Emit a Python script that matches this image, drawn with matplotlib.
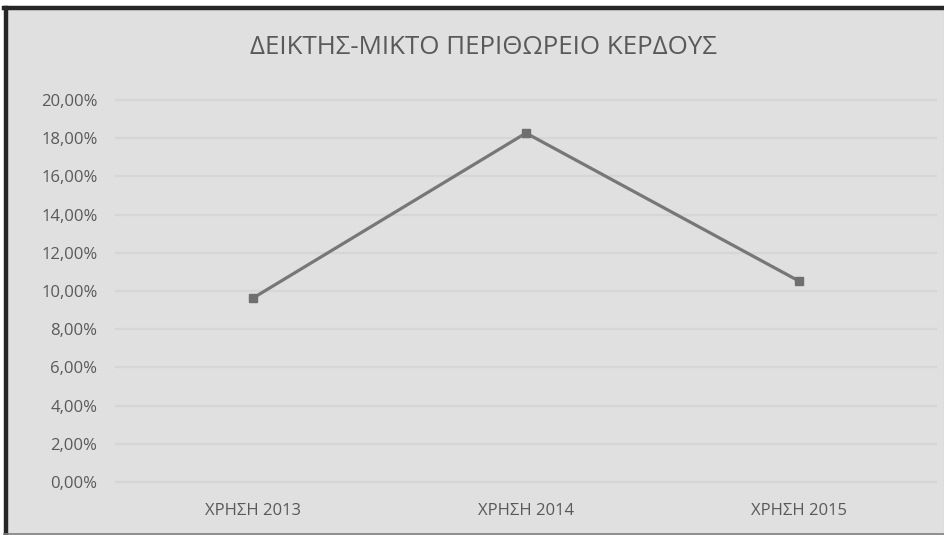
import matplotlib
matplotlib.use("Agg")
import matplotlib.pyplot as plt
from matplotlib.patches import Rectangle
from matplotlib.lines import Line2D
from matplotlib.ticker import FuncFormatter, MultipleLocator

categories = ["ΧΡΗΣΗ 2013", "ΧΡΗΣΗ 2014", "ΧΡΗΣΗ 2015"]
values = [0.0963, 0.1827, 0.1052]
title = "ΔΕΙΚΤΗΣ-ΜΙΚΤΟ ΠΕΡΙΘΩΡΕΙΟ ΚΕΡΔΟΥΣ"

W, H = 945, 535
fig = plt.figure(figsize=(W / 100, H / 100), dpi=100)
fig.patch.set_facecolor("white")

def fx(px):
    return px / W

def fy(py):
    return 1 - py / H

# chart area background and frame
fig.patches.append(Rectangle((fx(4), 0), 1 - fx(4), fy(6), transform=fig.transFigure,
                             facecolor="#e0e0e0", edgecolor="none", zorder=-10))
fig.lines.append(Line2D([fx(6), fx(6)], [0, fy(8)], transform=fig.transFigure,
                        color="#262626", linewidth=3.2, zorder=5))
fig.lines.append(Line2D([fx(4), 1], [fy(8), fy(8)], transform=fig.transFigure,
                        color="#262626", linewidth=3.2, zorder=5))
fig.lines.append(Line2D([fx(4), 1], [fy(534), fy(534)], transform=fig.transFigure,
                        color="#808080", linewidth=1.2, zorder=5))
fig.lines.append(Line2D([fx(944.5), fx(944.5)], [0, fy(8)], transform=fig.transFigure,
                        color="#b0b0b0", linewidth=0.8, zorder=5))

left, right = 116.5, 935.5
top, bottom = 100, 482
ax = fig.add_axes([fx(left), fy(bottom), fx(right - left), (bottom - top) / H])
ax.set_facecolor("none")
ax.set_zorder(2)

x = list(range(len(categories)))
ax.plot(x, values, color="#777777", linewidth=2.3, marker="s", markersize=6,
        markerfacecolor="#6f6f6f", markeredgecolor="#6f6f6f", solid_capstyle="round", zorder=3)

ax.set_xlim(-0.5, len(categories) - 0.5)
ax.set_ylim(0, 0.20)
ax.yaxis.set_major_locator(MultipleLocator(0.02))
ax.yaxis.set_major_formatter(FuncFormatter(lambda v, p: f"{v*100:.2f}%".replace(".", ",")))
ax.set_xticks(x)
ax.set_xticklabels(categories)

for s in ax.spines.values():
    s.set_visible(False)
ax.tick_params(axis="both", length=0, colors="#595959")
ax.tick_params(axis="y", pad=13.7, labelsize=12)
ax.tick_params(axis="x", pad=15, labelsize=12)
for lab in ax.get_xticklabels() + ax.get_yticklabels():
    lab.set_fontfamily("Open Sans")
ax.grid(axis="y", color="#d6d6d6", linewidth=1.6)
ax.set_axisbelow(True)
for gl in ax.get_ygridlines():
    gl.set_clip_on(False)
ax.set_xlim(-0.5, len(categories) - 0.5)

fig.text(fx(484), fy(48), title, ha="center", va="center", fontsize=18.6,
         color="#595959", family="Open Sans", zorder=5)

fig.savefig("out.png", dpi=100)
